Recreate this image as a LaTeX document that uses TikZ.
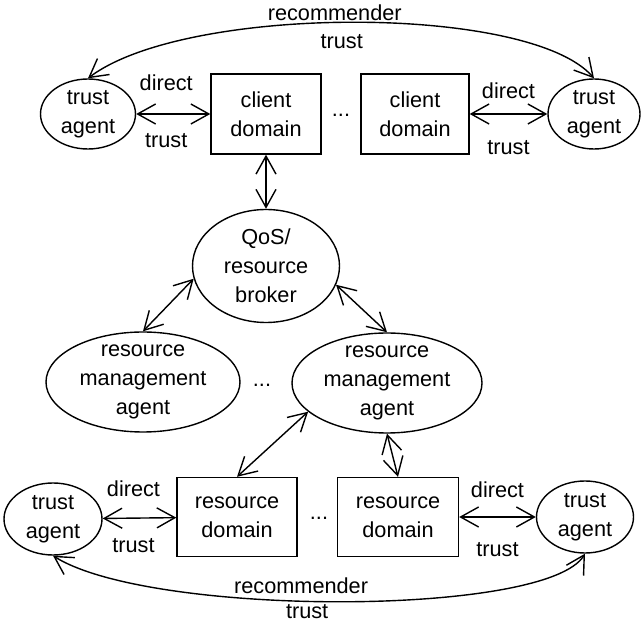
\documentclass[tikz,border=0pt]{standalone}
\usepackage{fontspec}
\setmainfont{Liberation Sans}
\usetikzlibrary{shapes.geometric,arrows.meta}

\begin{document}
\begin{tikzpicture}[x=1pt,y=-1pt,
    font=\fontsize{21.7}{29}\selectfont,
    line width=1.4pt,
    >={Straight Barb[length=18pt,width=20pt]}]

  \useasboundingbox (0,0) rectangle (641,628);

  \begin{scope}[every node/.style={ellipse,draw,align=center,inner sep=-8pt}]
    \node[minimum width=95pt,minimum height=70pt]  (ta1)  at (88,114)  {trust\\agent};
    \node[minimum width=92pt,minimum height=70pt]  (ta2)  at (594,114) {trust\\agent};
    \node[minimum width=147pt,minimum height=113pt] (qos) at (266,266) {QoS/\\resource\\broker};
    \node[minimum width=194pt,minimum height=100pt] (rma1) at (143,382) {resource\\management\\agent};
    \node[minimum width=190pt,minimum height=100pt] (rma2) at (387,383) {resource\\management\\agent};
    \node[minimum width=98pt,minimum height=72pt]  (ta3)  at (53,519)  {trust\\agent};
    \node[minimum width=97pt,minimum height=72pt]  (ta4)  at (585,517) {trust\\agent};
  \end{scope}

  \begin{scope}[every node/.style={rectangle,draw,align=center,inner sep=0pt}]
    \node[minimum width=110pt,minimum height=80pt] (cd1) at (266,114) {client\\domain};
    \node[minimum width=108pt,minimum height=80pt] (cd2) at (415,114) {client\\domain};
    \node[minimum width=120pt,minimum height=79pt] (rd1) at (237,517) {resource\\domain};
    \node[minimum width=121pt,minimum height=79pt] (rd2) at (398,517) {resource\\domain};
  \end{scope}

  \node (dots1) at (341,115) {...};
  \node (dots2) at (262,385) {...};
  \node (dots3) at (319,518) {...};

  \begin{scope}[every edge/.style={draw,<->}]
    \path (ta1) edge node[xshift=-7pt,yshift=31pt] {direct}
                     node[xshift=-7pt,yshift=-27pt] {trust} (cd1);
    \path (cd2) edge node[yshift=23pt] {direct}
                     node[yshift=-34pt] {trust} (ta2);
    \path (cd1) edge (qos);
    \path (qos.190) edge (rma1.north);
    \path (qos.345) edge (rma2.north);
    \path (rma2.200) edge (rd1.north);
    \path (rma2.south) edge (rd2.north);
    \path (ta3) edge node[xshift=-6pt,yshift=29pt] {direct}
                     node[xshift=-6pt,yshift=-28pt] {trust} (rd1);
    \path (rd2) edge node[yshift=27pt] {direct}
                     node[yshift=-33pt] {trust} (ta4);
  \end{scope}

  % recommender trust between the trust agents
  \draw[<->] (ta1.north) .. controls (186,4) and (530,4) .. (ta2.north)
    node[pos=.5,xshift=-19pt,yshift=10pt] {recommender}
    node[pos=.5,xshift=-12pt,yshift=-19pt] {trust};
  \draw[<->] (ta3.south) .. controls (150,617) and (547,617) .. (ta4.south)
    node[pos=.5,xshift=-40pt,yshift=16pt] {recommender}
    node[pos=.5,xshift=-34pt,yshift=-10pt] {trust};

\end{tikzpicture}
\end{document}
